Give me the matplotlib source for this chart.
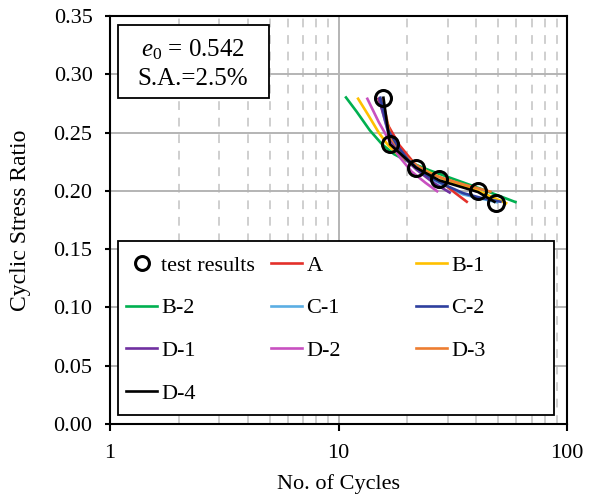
import matplotlib
matplotlib.use("Agg")
import matplotlib.pyplot as plt
from matplotlib.patches import Rectangle
from matplotlib.lines import Line2D
from matplotlib.legend import Legend
from matplotlib.ticker import FixedLocator, NullFormatter

plt.rcParams["font.family"] = ["Liberation Serif", "DejaVu Serif"]
plt.rcParams["mathtext.fontset"] = "custom"
plt.rcParams["mathtext.rm"] = "Liberation Serif"
plt.rcParams["mathtext.it"] = "Liberation Serif:italic"

# measured cyclic test results
test_n = [15.7, 16.8, 21.8, 27.6, 40.8, 48.7]
test_csr = [0.28, 0.24, 0.22, 0.21, 0.20, 0.19]

# model predictions (number of cycles, cyclic stress ratio)
a_n = [14.9, 16.5, 18.5, 21.8, 25.0, 28.7, 32.5, 36.8]
a_csr = [0.280, 0.256, 0.239, 0.222, 0.213, 0.2065, 0.198, 0.190]

b1_n = [12.1, 13.5, 15.0, 16.5, 18.5, 21.5, 28.5, 40.2, 54.8]
b1_csr = [0.280, 0.265, 0.250, 0.239, 0.230, 0.222, 0.2105, 0.2005, 0.189]

b2_n = [10.7, 12.0, 13.7, 15.5, 17.5, 20.0, 25.1, 41.6, 60.2]
b2_csr = [0.281, 0.268, 0.252, 0.240, 0.2315, 0.2255, 0.2175, 0.202, 0.190]

c1_n = [15.0, 16.5, 18.0, 20.0, 25.0, 35.0, 50.0]
c1_csr = [0.280, 0.250, 0.237, 0.226, 0.211, 0.197, 0.190]

c2_n = [15.2, 16.5, 18.2, 20.2, 22.5, 25.0, 30.0, 35.2, 42.0, 51.8]
c2_csr = [0.281, 0.252, 0.238, 0.2265, 0.218, 0.212, 0.204, 0.198, 0.194, 0.1905]

d1_n = [15.0, 16.8, 19.0, 22.0, 26.0, 31.0]
d1_csr = [0.280, 0.245, 0.230, 0.218, 0.207, 0.198]

d2_n = [13.3, 15.0, 16.8, 18.5, 20.9, 24.0, 27.3]
d2_csr = [0.280, 0.259, 0.242, 0.229, 0.2165, 0.207, 0.199]

d3_n = [15.5, 17.0, 19.0, 21.5, 25.1, 28.7, 36.0, 46.8]
d3_csr = [0.280, 0.245, 0.232, 0.223, 0.215, 0.2108, 0.205, 0.199]

d4_n = [15.7, 16.8, 21.8, 27.6, 40.8, 48.7]
d4_csr = [0.281, 0.240, 0.220, 0.209, 0.199, 0.190]

x_ticks = [1, 10, 100]
x_tick_labels = ["1", "10", "100"]
y_ticks = [0.00, 0.05, 0.10, 0.15, 0.20, 0.25, 0.30, 0.35]
y_tick_labels = ["0.00", "0.05", "0.10", "0.15", "0.20", "0.25", "0.30", "0.35"]

models = [
    ("A", a_n, a_csr, "#E3302A"),
    ("B-1", b1_n, b1_csr, "#FFC000"),
    ("B-2", b2_n, b2_csr, "#00B050"),
    ("C-1", c1_n, c1_csr, "#5BAEE3"),
    ("C-2", c2_n, c2_csr, "#2E3F9E"),
    ("D-1", d1_n, d1_csr, "#7030A0"),
    ("D-2", d2_n, d2_csr, "#C850C0"),
    ("D-3", d3_n, d3_csr, "#ED7D31"),
    ("D-4", d4_n, d4_csr, "#000000"),
]
draw_order = ["B-2", "B-1", "C-1", "D-2", "A", "D-1", "D-3", "C-2", "D-4"]

fig = plt.figure(figsize=(5.89, 4.94), dpi=100)
ax = fig.add_axes([110 / 589, 1 - 424 / 494, 457 / 589, 408 / 494])

ax.set_xscale("log")
ax.set_xlim(1, 100)
ax.set_ylim(0, 0.35)

# grid: solid at decades / every 0.05, dashed at minor decades
ax.xaxis.set_major_locator(FixedLocator(x_ticks))
ax.set_xticklabels(x_tick_labels)
minor = [m * d for d in (1, 10) for m in range(2, 10)]
ax.xaxis.set_minor_locator(FixedLocator(minor))
ax.xaxis.set_minor_formatter(NullFormatter())
ax.set_yticks(y_ticks)
ax.set_yticklabels(y_tick_labels)

ax.grid(True, which="major", axis="both", color="#B4B4B4", lw=1.4, zorder=0)
ax.grid(True, which="minor", axis="x", color="#CFCFCF", lw=1.4,
        linestyle=(0, (4.5, 4)), zorder=0)
ax.set_axisbelow(True)

lines = {}
for name, n, csr, col in models:
    lines[name] = (n, csr, col)
for z, name in enumerate(draw_order):
    n, csr, col = lines[name]
    ax.plot(n, csr, color=col, lw=1.9, zorder=2 + z * 0.01,
            solid_capstyle="butt", solid_joinstyle="round")

ax.plot(test_n, test_csr, linestyle="none", marker="o", markersize=11.5,
        markerfacecolor="none", markeredgecolor="black", markeredgewidth=2.2,
        zorder=3)

for s in ax.spines.values():
    s.set_linewidth(1.5)
    s.set_color("black")

ax.tick_params(axis="x", which="major", direction="out", length=5.2,
               width=1.5, pad=9, labelsize=16)
ax.tick_params(axis="x", which="minor", length=0)
ax.tick_params(axis="y", which="major", direction="out", length=3.6,
               width=1.5, pad=9, labelsize=16)
ax.set_xlabel("No. of Cycles", fontsize=16, labelpad=8)
ax.set_ylabel("Cyclic Stress Ratio", fontsize=17, labelpad=16)

# annotation box
ax.add_patch(Rectangle((0.0175, 0.799), 0.3304, 0.179, transform=ax.transAxes,
                       facecolor="white", edgecolor="black", lw=1.3,
                       zorder=4))
ax.text(0.1816, 0.918, r"$e_0$ = 0.542", transform=ax.transAxes,
        ha="center", va="center", fontsize=18, zorder=5)
ax.text(0.1816, 0.845, "S.A.=2.5%", transform=ax.transAxes,
        ha="center", va="center", fontsize=18, zorder=5)

# legend frame and three evenly spaced legend columns
ax.add_patch(Rectangle((0.0175, 0.0221), 0.9541, 0.4264,
                       transform=ax.transAxes, facecolor="white",
                       edgecolor="black", lw=1.3, zorder=4))

handles = {"test results": Line2D([], [], linestyle="none", marker="o",
                                  markersize=10, markerfacecolor="none",
                                  markeredgecolor="black",
                                  markeredgewidth=2.2)}
for name, n, csr, col in models:
    handles[name] = Line2D([], [], color=col, lw=1.9)

columns = [
    (["test results", "B-2", "D-1", "D-4"], 0.035),
    (["A", "C-1", "D-2"], 0.3523),
    (["B-1", "C-2", "D-3"], 0.669),
]
for labels, x0 in columns:
    leg = Legend(ax, [handles[k] for k in labels], labels,
                 loc="upper left", bbox_to_anchor=(x0, 0.414),
                 bbox_transform=ax.transAxes, frameon=False,
                 fontsize=16, borderpad=0, borderaxespad=0,
                 handlelength=1.4, handletextpad=0.19,
                 labelspacing=1.0)
    leg.set_zorder(5)
    ax.add_artist(leg)

fig.savefig("out.png", dpi=100)
